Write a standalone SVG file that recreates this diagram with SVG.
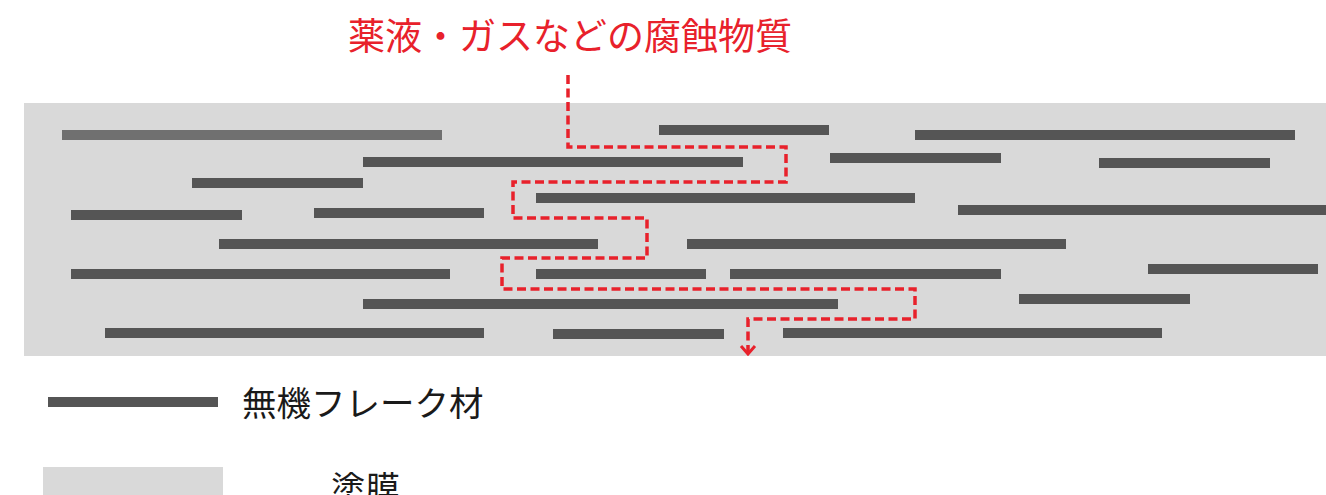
<svg xmlns="http://www.w3.org/2000/svg" width="1326" height="495" viewBox="0 0 1326 495">
<style>
.coat{fill:#d9d9d9}
.flake{fill:#555555}
.flake2{fill:#707070}
.path{fill:none;stroke:#e8212b;stroke-width:3.5;stroke-dasharray:9 4.5}
.title{font-family:"Noto Sans CJK JP",sans-serif;font-size:37px;fill:#e8212b}
.label{font-family:"Noto Sans CJK JP",sans-serif;font-size:34.5px;fill:#1a1a1a}
</style>
<defs>
<marker id="chev" markerWidth="12" markerHeight="18" refX="10" refY="9" orient="auto" markerUnits="userSpaceOnUse" viewBox="0 0 12 18">
<path d="M2,2 L10,9 L2,16" fill="none" stroke="#e8212b" stroke-width="3"/>
</marker>
</defs>
<rect x="0" y="0" width="1326" height="495" fill="#ffffff"/>
<g id="coating">
<rect class="coat" x="24" y="103" width="1302" height="253"/>
</g>
<g id="flakes">
<rect class="flake2" x="62" y="130" width="380" height="10"/>
<rect class="flake" x="659" y="125" width="170" height="10"/>
<rect class="flake" x="915" y="130" width="380" height="10"/>
<rect class="flake" x="363" y="157" width="380" height="10"/>
<rect class="flake" x="830" y="153" width="171" height="10"/>
<rect class="flake" x="1099" y="158" width="171" height="10"/>
<rect class="flake" x="192" y="178" width="171" height="10"/>
<rect class="flake" x="536" y="193" width="379" height="10"/>
<rect class="flake" x="71" y="210" width="171" height="10"/>
<rect class="flake" x="314" y="208" width="170" height="10"/>
<rect class="flake" x="958" y="205" width="368" height="10"/>
<rect class="flake" x="219" y="239" width="379" height="10"/>
<rect class="flake" x="687" y="239" width="379" height="10"/>
<rect class="flake" x="71" y="269" width="379" height="10"/>
<rect class="flake" x="536" y="269" width="170" height="10"/>
<rect class="flake" x="730" y="269" width="271" height="10"/>
<rect class="flake" x="1148" y="264" width="170" height="10"/>
<rect class="flake" x="363" y="299" width="475" height="10"/>
<rect class="flake" x="1019" y="294" width="171" height="10"/>
<rect class="flake" x="105" y="328" width="379" height="10"/>
<rect class="flake" x="553" y="329" width="171" height="10"/>
<rect class="flake" x="783" y="328" width="379" height="10"/>
</g>
<g id="connectors">
<path class="path" marker-end="url(#chev)" d="M568,75 V147 H786 V182 H513 V218 H647 V258 H502 V289 H915 V319 H748 V354"/>
</g>
<g id="title">
<text class="title" x="348" y="50">薬液・ガスなどの腐蝕物質</text>
</g>
<g id="legend-flake">
<rect class="flake" x="48" y="397" width="170" height="10"/>
<text class="label" x="242" y="416">無機フレーク材</text>
</g>
<g id="legend-coat">
<rect class="coat" x="43" y="467" width="180" height="28"/>
<text class="label" x="331" y="501">塗膜</text>
</g>
</svg>
